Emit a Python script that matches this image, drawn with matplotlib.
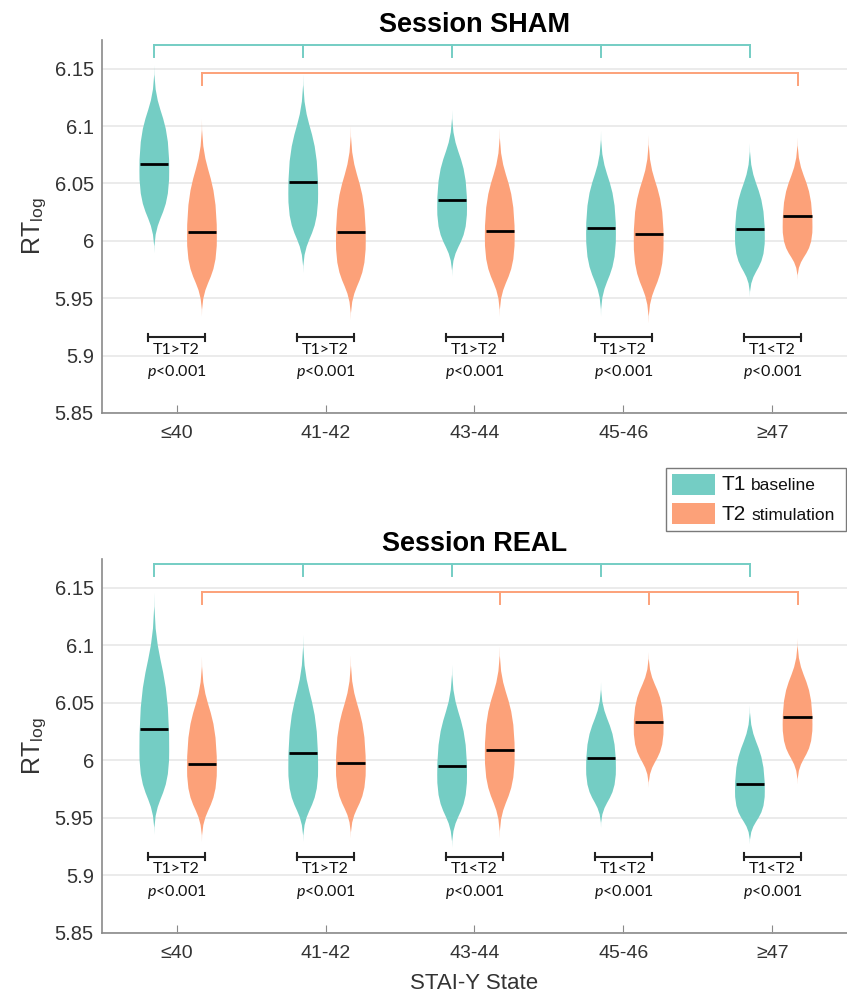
import matplotlib
matplotlib.use('Agg')
import matplotlib.pyplot as plt
from matplotlib.path import Path
from matplotlib.patches import PathPatch, Rectangle

plt.rcParams['font.family'] = ['Liberation Sans', 'DejaVu Sans']
plt.rcParams['mathtext.fontset'] = 'custom'
plt.rcParams['mathtext.rm'] = 'Liberation Sans'
plt.rcParams['mathtext.it'] = 'Lato:italic'

groups = ['≤40', '41-42', '43-44', '45-46', '≥47']

# SHAM session (median, widest point, tail ends)
sham_t1_median = [6.067, 6.051, 6.036, 6.011, 6.010]
sham_t1_peak = [6.061, 6.041, 6.029, 6.006, 6.003]
sham_t1_top = [6.153, 6.145, 6.114, 6.096, 6.085]
sham_t1_bottom = [5.989, 5.972, 5.969, 5.934, 5.951]
sham_t2_median = [6.008, 6.008, 6.009, 6.006, 6.022]
sham_t2_peak = [6.003, 6.000, 6.003, 6.000, 6.012]
sham_t2_top = [6.106, 6.100, 6.098, 6.092, 6.090]
sham_t2_bottom = [5.934, 5.931, 5.934, 5.928, 5.966]
sham_cmp = ['T1>T2', 'T1>T2', 'T1>T2', 'T1>T2', 'T1<T2']
sham_t1_links = [1, 2, 3, 4, 5]
sham_t2_links = [1, 5]

# REAL session
real_t1_median = [6.027, 6.006, 5.995, 6.002, 5.979]
real_t1_peak = [6.008, 5.993, 5.987, 5.993, 5.973]
real_t1_top = [6.146, 6.109, 6.083, 6.068, 6.048]
real_t1_bottom = [5.935, 5.929, 5.924, 5.941, 5.927]
real_t2_median = [5.997, 5.998, 6.009, 6.033, 6.038]
real_t2_peak = [5.993, 5.993, 6.005, 6.028, 6.031]
real_t2_top = [6.090, 6.091, 6.099, 6.094, 6.106]
real_t2_bottom = [5.929, 5.932, 5.932, 5.976, 5.979]
real_cmp = ['T1>T2', 'T1>T2', 'T1<T2', 'T1<T2', 'T1<T2']
real_t1_links = [1, 2, 3, 4, 5]
real_t2_links = [1, 3, 4, 5]

p_label = '$p$<0.001'

TEAL = '#74CDC4'
ORANGE = '#FCA179'
W = 847
H = 999


def violin(ax, x, lo, peak, hi, color, w=0.1):
    a, b = 0.5, 0.6
    dl = peak - lo
    dh = hi - peak
    verts = [(x, lo),
             (x, lo + a * dl), (x + w, peak - b * dl), (x + w, peak),
             (x + w, peak + b * dh), (x, hi - a * dh), (x, hi),
             (x, hi - a * dh), (x - w, peak + b * dh), (x - w, peak),
             (x - w, peak - b * dl), (x, lo + a * dl), (x, lo),
             (x, lo)]
    codes = [Path.MOVETO] + [Path.CURVE4] * 12 + [Path.CLOSEPOLY]
    ax.add_patch(PathPatch(Path(verts, codes), facecolor=color, edgecolor='none', zorder=2))


def panel(ax, title, t1, t2, cmp, links1, links2):
    xs = list(range(1, len(groups) + 1))
    x1 = [x - 0.15 for x in xs]
    x2 = [x + 0.17 for x in xs]
    for xx, (med, pk, hi, lo), col in [(x1, t1, TEAL), (x2, t2, ORANGE)]:
        for i in range(len(xs)):
            violin(ax, xx[i], lo[i], pk[i], hi[i], col)
            ax.plot([xx[i] - 0.095, xx[i] + 0.095], [med[i], med[i]],
                    color='black', lw=2, solid_capstyle='butt', zorder=3)

    # group brackets on top
    for xx, links, yh, col in [(x1, links1, 6.1704, TEAL), (x2, links2, 6.146, ORANGE)]:
        ax.plot([xx[0], xx[-1]], [yh, yh], color=col, lw=1.4, zorder=3, clip_on=False)
        for k in links:
            ax.plot([xx[k - 1], xx[k - 1]], [yh, yh - 0.0103], color=col, lw=1.4,
                    zorder=3, clip_on=False)

    # T1 vs T2 comparisons
    for i, x in enumerate(xs):
        ax.plot([x - 0.19, x + 0.19], [5.916, 5.916], color='#222222', lw=1.5)
        for e in (x - 0.19, x + 0.19):
            ax.plot([e, e], [5.913, 5.919], color='#222222', lw=1.5)
        ax.text(x, 5.905, cmp[i], ha='center', va='center', fontsize=11.5,
                family='Lato', color='#111111')
        ax.text(x, 5.8855, p_label, ha='center', va='center', fontsize=11.5,
                family='Lato', color='#111111')

    ax.set_xlim(0.5, 5.5)
    ax.set_ylim(5.85, 6.175)
    ax.set_xticks(xs)
    ax.set_xticklabels(groups)
    ax.set_yticks([5.85, 5.9, 5.95, 6, 6.05, 6.1, 6.15])
    ax.set_yticklabels(['5.85', '5.9', '5.95', '6', '6.05', '6.1', '6.15'])
    ax.grid(axis='y', color='#e8e8e8', lw=1.2)
    ax.set_axisbelow(True)
    for s in ('top', 'right'):
        ax.spines[s].set_visible(False)
    for s in ('left', 'bottom'):
        ax.spines[s].set_color('#8a8a8a')
        ax.spines[s].set_linewidth(1.2)
    ax.tick_params(axis='x', direction='in', length=6, color='#8a8a8a',
                   labelsize=14, labelcolor='#333333', pad=9)
    ax.tick_params(axis='y', length=0, labelsize=14.5, labelcolor='#333333', pad=6)
    ax.set_ylabel('RT$_{\\mathrm{log}}$', fontsize=18, color='#333333', labelpad=4)
    ax.set_title(title, fontsize=19.5, fontweight='bold', pad=6)


fig = plt.figure(figsize=(W / 100, H / 100), dpi=100)
ax1 = fig.add_axes([102.2 / W, 1 - 413 / H, 744.5 / W, 373 / H])
ax2 = fig.add_axes([102.2 / W, 1 - 932.7 / H, 744.5 / W, 373.7 / H])

panel(ax1, 'Session SHAM',
      (sham_t1_median, sham_t1_peak, sham_t1_top, sham_t1_bottom),
      (sham_t2_median, sham_t2_peak, sham_t2_top, sham_t2_bottom),
      sham_cmp, sham_t1_links, sham_t2_links)
panel(ax2, 'Session REAL',
      (real_t1_median, real_t1_peak, real_t1_top, real_t1_bottom),
      (real_t2_median, real_t2_peak, real_t2_top, real_t2_bottom),
      real_cmp, real_t1_links, real_t2_links)
ax2.set_xlabel('STAI-Y State', fontsize=16, color='#333333', labelpad=8)

# legend drawn between the panels
def fx(px):
    return px / W


def fy(py):
    return 1 - py / H


fig.add_artist(Rectangle((fx(666), fy(531)), 180 / W, 63 / H, transform=fig.transFigure,
                         facecolor='white', edgecolor='#7a7a7a', lw=1))
for (top, col, lab, sub) in [(474, TEAL, 'T1', 'baseline'), (503, ORANGE, 'T2', 'stimulation')]:
    fig.add_artist(Rectangle((fx(672), fy(top + 21)), 43 / W, 21 / H, transform=fig.transFigure,
                             facecolor=col, edgecolor='none'))
    fig.text(fx(721), fy(top + 11), lab, fontsize=15, va='center', color='#111111')
    fig.text(fx(751), fy(top + 12), sub, fontsize=12.5, va='center', color='#111111')

fig.savefig('out.png', dpi=100)
